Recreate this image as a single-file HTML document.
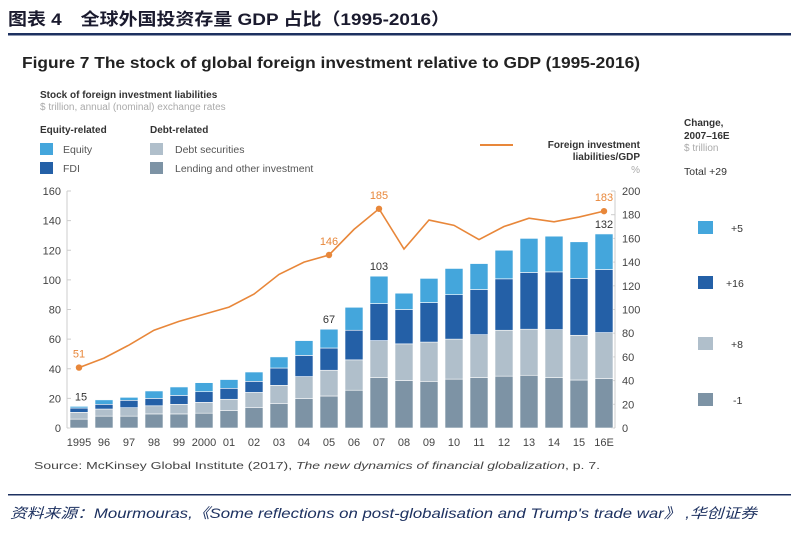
<!DOCTYPE html>
<html><head><meta charset="utf-8"><style>
body{margin:0;background:#fff;width:800px;height:537px;overflow:hidden;font-family:"Liberation Sans","Noto Sans CJK SC",sans-serif}
svg text{font-family:"Liberation Sans","Noto Sans CJK SC",sans-serif}
</style></head><body>
<svg width="800" height="537" viewBox="0 0 800 537">
<text x="8" y="25" font-size="17" font-weight="bold" fill="#1a1a2e" textLength="442" lengthAdjust="spacingAndGlyphs">图表 4　全球外国投资存量 GDP 占比（1995-2016）</text>
<rect x="8" y="33" width="783" height="2.5" fill="#1d3160"/>
<text x="22" y="68" font-size="16" font-weight="bold" fill="#222" textLength="618" lengthAdjust="spacingAndGlyphs">Figure 7 The stock of global foreign investment relative to GDP (1995-2016)</text>
<text x="40" y="98" font-size="10" font-weight="bold" fill="#333">Stock of foreign investment liabilities</text>
<text x="40" y="110" font-size="10" fill="#aaa">$ trillion, annual (nominal) exchange rates</text>
<text x="40" y="133" font-size="10" font-weight="bold" fill="#333">Equity-related</text>
<text x="150" y="133" font-size="10" font-weight="bold" fill="#333">Debt-related</text>
<g><rect x="40" y="143" width="13" height="12" fill="#44a6dc"/><text x="63" y="153" font-size="10.5" fill="#555">Equity</text></g>
<g><rect x="40" y="162" width="13" height="12" fill="#2460a7"/><text x="63" y="172" font-size="10.5" fill="#555">FDI</text></g>
<g><rect x="150" y="143" width="13" height="12" fill="#b0bfcb"/><text x="175" y="153" font-size="10.5" fill="#555">Debt securities</text></g>
<g><rect x="150" y="162" width="13" height="12" fill="#7d93a5"/><text x="175" y="172" font-size="10.5" fill="#555">Lending and other investment</text></g>
<g><line x1="480" y1="145" x2="513" y2="145" stroke="#e8873a" stroke-width="2"/>
<text x="640" y="148" font-size="10" font-weight="bold" fill="#333" text-anchor="end">Foreign investment</text>
<text x="640" y="160" font-size="10" font-weight="bold" fill="#333" text-anchor="end">liabilities/GDP</text>
<text x="640" y="173" font-size="10" fill="#aaa" text-anchor="end">%</text></g>
<g>
<text x="684" y="126" font-size="10" font-weight="bold" fill="#333">Change,</text>
<text x="684" y="139" font-size="10" font-weight="bold" fill="#333">2007–16E</text>
<text x="684" y="151" font-size="10" fill="#aaa">$ trillion</text>
<text x="684" y="175" font-size="10.5" fill="#333">Total   +29</text>
<rect x="698" y="221" width="15" height="13" fill="#44a6dc"/><text x="731" y="232" font-size="10.5" fill="#333">+5</text>
<rect x="698" y="276" width="15" height="13" fill="#2460a7"/><text x="726" y="287" font-size="10.5" fill="#333">+16</text>
<rect x="698" y="337" width="15" height="13" fill="#b0bfcb"/><text x="731" y="348" font-size="10.5" fill="#333">+8</text>
<rect x="698" y="393" width="15" height="13" fill="#7d93a5"/><text x="733" y="404" font-size="10.5" fill="#333">-1</text>
</g>
<g id="plot"></g>
<text x="34" y="469" font-size="10.5" fill="#444" textLength="566" lengthAdjust="spacingAndGlyphs">Source: McKinsey Global Institute (2017), <tspan font-style="italic">The new dynamics of financial globalization</tspan>, p. 7.</text>
<rect x="8" y="494" width="783" height="1.5" fill="#1d3160"/>
<text x="10" y="518" font-size="14" font-style="italic" fill="#1d3160" textLength="747" lengthAdjust="spacingAndGlyphs">资料来源：Mourmouras,《Some reflections on post-globalisation and Trump's trade war》 ,华创证券</text>
</svg>
<script>
const years=["1995","96","97","98","99","2000","01","02","03","04","05","06","07","08","09","10","11","12","13","14","15","16E"];
const lending=[6,8,8,9.5,9.5,10,11.7,13.7,16.4,19.8,21.6,25.5,34,32,31.5,33,34,35,35.6,34,32.4,33.3];
const debt=[4.6,4.8,5.7,5.5,6.5,7.3,7.7,10.3,12.4,14.9,17.4,20.5,25,24.8,26.5,27,29,31,31.1,32.4,30.2,31.1];
const fdi=[2.9,3.2,5,5,6,7.2,7.4,7.5,11.7,14.3,15,20,25,23.2,26.7,30,30.5,34.7,38.3,39,38.4,42.6];
const equity=[1.1,3,2,5,5.7,6.1,5.9,6.3,7.5,10,12.7,15.5,18.5,11,16.3,17.7,17.5,19.3,23,24.1,24.7,24];
const ratio=[51,59,70,82.5,90,96,102,113,129.6,140,146,167.6,185,151,175.5,171,159,170,177,174,178,183];
const barLabels={0:"15",10:"67",12:"103",21:"132"};
const ratioLabels={0:"51",10:"146",12:"185",21:"183"};
const leftTicks=[0,20,40,60,80,100,120,140,160];
const rightTicks=[0,20,40,60,80,100,120,140,160,180,200];
const NS="http://www.w3.org/2000/svg",g=document.getElementById('plot');
const y0=428,yTop=191;
const yL=v=>y0-(y0-yTop)*v/160, yR=v=>y0-(y0-yTop)*v/200, xC=i=>79+i*25;
function el(t,a,p){const e=document.createElementNS(NS,t);for(const k in a)e.setAttribute(k,a[k]);(p||g).appendChild(e);return e;}
const ax=el('line',{x1:67,y1:yTop,x2:67,y2:y0,stroke:'#ccc'});

const ax2=el('line',{x1:615,y1:yTop,x2:615,y2:y0,stroke:'#ccc'});

leftTicks.forEach(v=>{el('line',{x1:67,x2:71,y1:yL(v),y2:yL(v),stroke:'#ccc'});
const t=el('text',{x:61,y:yL(v)+4,'font-size':11,fill:'#444','text-anchor':'end'});t.textContent=v;
});
rightTicks.forEach(v=>{el('line',{x1:611,x2:615,y1:yR(v),y2:yR(v),stroke:'#ccc'});
const t=el('text',{x:622,y:yR(v)+4,'font-size':11,fill:'#444'});t.textContent=v;
});
const series=[[lending,'#7d93a5','lending'],[debt,'#b0bfcb','debt'],[fdi,'#2460a7','fdi'],[equity,'#44a6dc','equity']];
years.forEach((yr,i)=>{let cum=0;
series.forEach(([arr,c,n])=>{const a=yL(cum),b=yL(cum+arr[i]);
const r=el('rect',{x:xC(i)-9,y:b,width:18,height:a-b,fill:c,stroke:'#fff','stroke-width':0.6});
cum+=arr[i];});
const t=el('text',{x:xC(i),y:446,'font-size':11,fill:'#444','text-anchor':'middle'});t.textContent=yr;

if(barLabels[i]){const l=el('text',{x:i==0?xC(i)+2:xC(i),y:yL(cum)-6,'font-size':11,fill:'#333','text-anchor':'middle'});l.textContent=barLabels[i];
}});
const pl=el('polyline',{points:ratio.map((v,i)=>xC(i)+','+yR(v)).join(' '),fill:'none',stroke:'#e8873a','stroke-width':1.6});

Object.keys(ratioLabels).forEach(k=>{const i=+k;
const c=el('circle',{cx:xC(i),cy:yR(ratio[i]),r:3.2,fill:'#e8873a'});

const t=el('text',{x:xC(i),y:yR(ratio[i])-10,'font-size':11,fill:'#e8873a','text-anchor':'middle'});t.textContent=ratioLabels[k];
});
</script>
</body></html>
